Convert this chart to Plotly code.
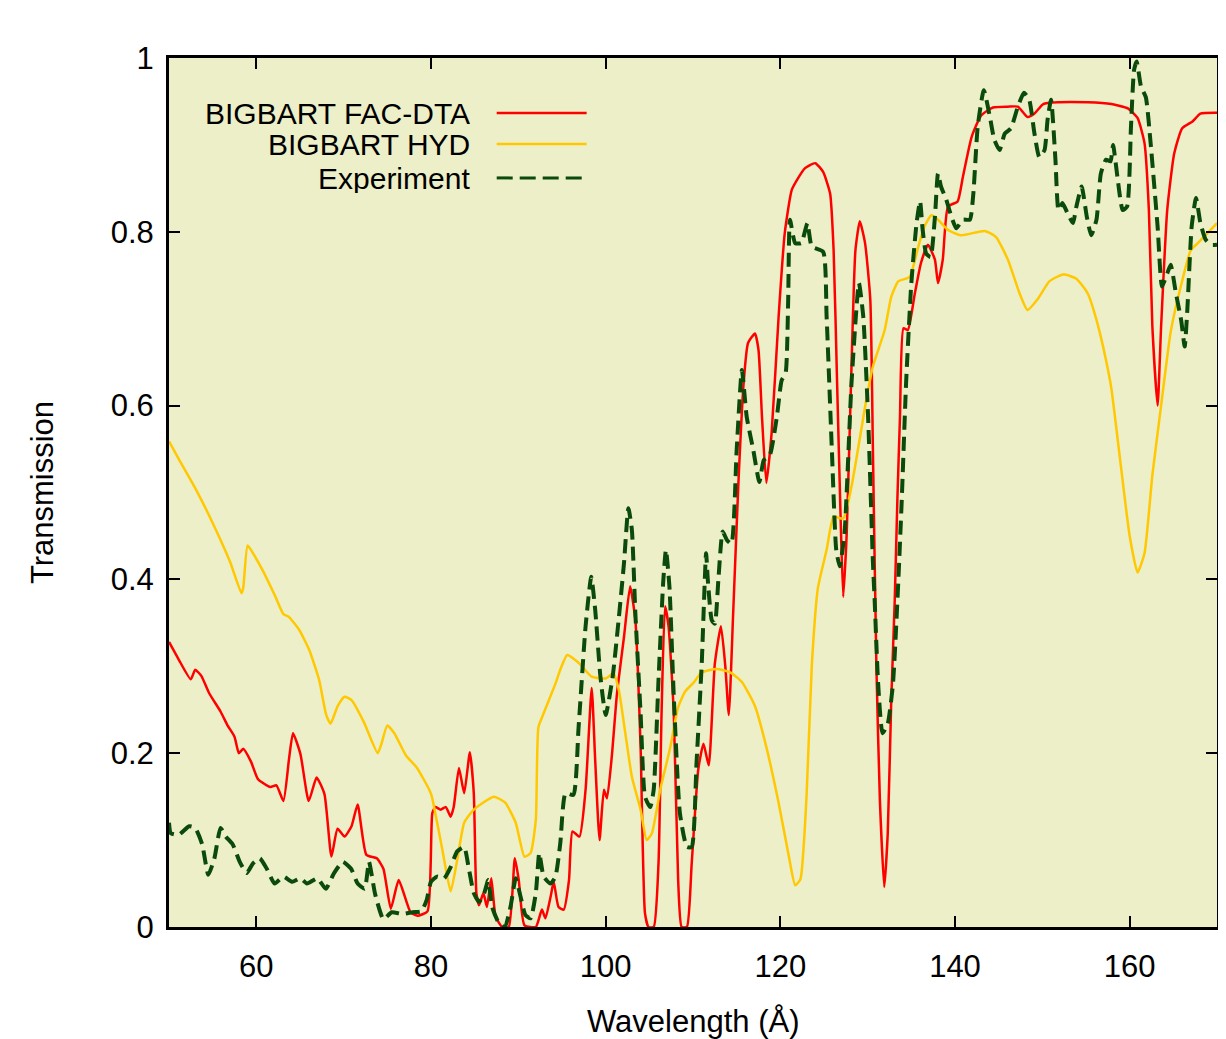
import plotly.graph_objects as go

# ---- Data (wavelength in Angstrom, transmission) ----
fac_dta = [
    (50, 0.328), (51.1, 0.308), (52.5, 0.285), (53.0, 0.296), (53.7, 0.289), (54.6, 0.269),
    (55.9, 0.248), (56.7, 0.232), (57.5, 0.219), (58.0, 0.2), (58.5, 0.205), (59.4, 0.19),
    (60.2, 0.17), (61.6, 0.161), (62.3, 0.163), (63.1, 0.145), (63.75, 0.194), (64.2, 0.223),
    (65.05, 0.199), (66.0, 0.145), (66.9, 0.172), (67.8, 0.153), (68.6, 0.081), (69.3, 0.113),
    (70.1, 0.104), (70.9, 0.116), (71.6, 0.141), (72.6, 0.083), (73.8, 0.079), (74.55, 0.067),
    (75.4, 0.021), (76.3, 0.054), (77.65, 0.017), (78.45, 0.013), (79.6, 0.018), (80.15, 0.131),
    (80.5, 0.138), (81.1, 0.135), (81.7, 0.138), (82.25, 0.127), (82.6, 0.138), (83.2, 0.183),
    (83.8, 0.154), (84.45, 0.201), (84.9, 0.154), (85.2, 0.039), (85.5, 0.025), (86.0, 0.039),
    (86.4, 0.023), (86.9, 0.056), (87.4, 0.012), (88.15, 0.0), (88.9, 0.0), (89.6, 0.079),
    (90.05, 0.054), (90.7, 0.002), (92.0, 0.0), (92.7, 0.02), (93.1, 0.01), (93.7, 0.035),
    (94.05, 0.052), (94.6, 0.023), (95.2, 0.02), (95.8, 0.054), (96.2, 0.11), (97.0, 0.104),
    (97.7, 0.158), (98.4, 0.275), (98.8, 0.192), (99.3, 0.1), (99.8, 0.158), (100.15, 0.148),
    (100.7, 0.196), (101.3, 0.269), (102.1, 0.334), (102.8, 0.392), (103.4, 0.353), (104.0, 0.207),
    (104.5, 0.016), (104.9, 0.0), (105.5, 0.0), (106.05, 0.073), (106.4, 0.246), (106.8, 0.369),
    (107.2, 0.346), (107.8, 0.246), (108.3, 0.054), (108.7, 0.0), (109.3, 0.0), (109.85, 0.073),
    (110.6, 0.181), (111.2, 0.211), (111.8, 0.186), (112.5, 0.303), (113.2, 0.346), (113.7, 0.3),
    (114.1, 0.244), (114.6, 0.361), (115.2, 0.511), (115.8, 0.626), (116.3, 0.672), (117.1, 0.683),
    (117.5, 0.664), (117.9, 0.587), (118.4, 0.511), (119.0, 0.568), (119.8, 0.702), (120.5, 0.798),
    (121.3, 0.848), (122.05, 0.862), (122.8, 0.873), (124.0, 0.879), (124.9, 0.869), (125.7, 0.844),
    (126.1, 0.779), (126.5, 0.626), (126.9, 0.472), (127.2, 0.38), (127.6, 0.453), (128.2, 0.664),
    (128.6, 0.779), (129.1, 0.812), (129.7, 0.787), (130.3, 0.722), (130.6, 0.549), (131.0, 0.3),
    (131.4, 0.146), (131.9, 0.046), (132.3, 0.108), (132.7, 0.261), (133.1, 0.376), (133.4, 0.491),
    (133.7, 0.587), (134.1, 0.689), (134.6, 0.687), (135.4, 0.729), (136.1, 0.764), (136.9, 0.785),
    (137.7, 0.768), (138.05, 0.741), (138.6, 0.768), (139.2, 0.829), (140.3, 0.835), (140.9, 0.863),
    (141.9, 0.909), (143.0, 0.934), (144.35, 0.943), (146.05, 0.944), (147.2, 0.944), (148.3, 0.932),
    (149.1, 0.936), (150.1, 0.947), (151.8, 0.949), (155.2, 0.949), (157.9, 0.947), (159.8, 0.942),
    (160.9, 0.931), (161.7, 0.902), (162.2, 0.825), (162.6, 0.691), (163.2, 0.60), (163.6, 0.691),
    (164.3, 0.825), (165.1, 0.89), (166.0, 0.919), (167.2, 0.927), (168.1, 0.936), (170, 0.937),
]

hyd = [
    (50, 0.559), (51.2, 0.537), (53.0, 0.505), (55.0, 0.465), (57.0, 0.42), (58.3, 0.384),
    (58.5, 0.39), (59.0, 0.439), (59.8, 0.427), (60.8, 0.409), (62.1, 0.382), (63.1, 0.36),
    (63.7, 0.357), (64.9, 0.342), (66.05, 0.319), (67.2, 0.284), (68.0, 0.244), (68.5, 0.234),
    (69.3, 0.254), (70.1, 0.265), (70.9, 0.261), (72.3, 0.236), (73.9, 0.2), (74.3, 0.21),
    (75.0, 0.232), (75.8, 0.223), (77.1, 0.198), (78.4, 0.183), (79.8, 0.158), (80.1, 0.15),
    (81.3, 0.089), (82.25, 0.041), (83.0, 0.077), (83.8, 0.12), (84.9, 0.135), (87.2, 0.15),
    (88.5, 0.143), (89.7, 0.12), (90.7, 0.081), (91.4, 0.085), (92.0, 0.123), (92.3, 0.23),
    (92.9, 0.246), (94.25, 0.28), (94.8, 0.296), (95.6, 0.313), (96.9, 0.304), (98.4, 0.288),
    (100.0, 0.286), (100.9, 0.292), (101.5, 0.273), (102.25, 0.223), (103.0, 0.173), (104.0, 0.135),
    (104.7, 0.10), (105.3, 0.108), (106.25, 0.158), (107.4, 0.207), (108.3, 0.253), (109.1, 0.271),
    (110.05, 0.281), (111.0, 0.293), (112.7, 0.297), (114.25, 0.293), (115.6, 0.282), (117.1, 0.254),
    (118.4, 0.207), (119.8, 0.143), (121.0, 0.08), (121.7, 0.048), (122.3, 0.055), (123.0, 0.15),
    (123.6, 0.3), (124.3, 0.39), (125.3, 0.434), (126.1, 0.472), (127.2, 0.47), (128.15, 0.507),
    (129.9, 0.61), (130.6, 0.645), (131.95, 0.687), (132.7, 0.725), (133.5, 0.743), (134.8, 0.748),
    (135.8, 0.783), (136.5, 0.806), (137.3, 0.819), (138.05, 0.814), (139.2, 0.802), (140.7, 0.796),
    (143.4, 0.801), (144.7, 0.794), (146.05, 0.768), (147.4, 0.729), (148.3, 0.71), (149.5, 0.723),
    (150.8, 0.743), (152.4, 0.751), (153.9, 0.746), (155.2, 0.729), (156.3, 0.695), (157.3, 0.652),
    (157.9, 0.62), (159.0, 0.53), (160.0, 0.45), (160.9, 0.408), (161.7, 0.43), (162.6, 0.52),
    (163.6, 0.60), (164.7, 0.685), (165.9, 0.739), (167.0, 0.779), (167.8, 0.787), (170, 0.81),
]

experiment = [
    (50, 0.12), (50.2, 0.108), (51.1, 0.106), (52.3, 0.116), (53.0, 0.114), (53.8, 0.095),
    (54.5, 0.06), (55.2, 0.079), (55.9, 0.114), (56.5, 0.104), (57.3, 0.095), (58.1, 0.075),
    (58.9, 0.062), (59.6, 0.073), (60.4, 0.079), (61.2, 0.067), (62.1, 0.05), (63.1, 0.058),
    (64.1, 0.052), (65.05, 0.056), (65.8, 0.05), (67.0, 0.056), (67.95, 0.044), (68.9, 0.062),
    (69.9, 0.075), (70.85, 0.067), (71.6, 0.05), (72.4, 0.044), (72.9, 0.075), (73.6, 0.038),
    (74.55, 0.009), (75.5, 0.017), (76.7, 0.015), (77.9, 0.017), (78.9, 0.018), (79.5, 0.031),
    (80.0, 0.052), (80.7, 0.058), (81.5, 0.056), (82.25, 0.069), (83.0, 0.087), (83.8, 0.092),
    (84.3, 0.069), (84.9, 0.039), (85.5, 0.029), (86.1, 0.039), (86.55, 0.054), (87.0, 0.023),
    (87.8, 0.004), (88.45, 0.0), (89.1, 0.023), (89.7, 0.056), (90.25, 0.035), (90.8, 0.014),
    (91.4, 0.01), (92.0, 0.039), (92.4, 0.085), (92.9, 0.058), (93.7, 0.05), (94.25, 0.058),
    (94.8, 0.096), (95.4, 0.154), (96.3, 0.152), (96.9, 0.23), (97.7, 0.346), (98.35, 0.403),
    (98.8, 0.365), (99.4, 0.288), (100.0, 0.244), (100.8, 0.288), (101.5, 0.355), (102.1, 0.419),
    (102.6, 0.482), (103.0, 0.457), (103.4, 0.361), (104.0, 0.246), (104.5, 0.15), (105.1, 0.138),
    (105.5, 0.158), (106.05, 0.284), (106.6, 0.399), (106.9, 0.434), (107.3, 0.392), (107.8, 0.265),
    (108.5, 0.131), (109.3, 0.092), (109.85, 0.092), (110.4, 0.188), (111.0, 0.303), (111.5, 0.43),
    (111.7, 0.399), (112.15, 0.353), (112.5, 0.349), (112.9, 0.399), (113.4, 0.455), (113.9, 0.445),
    (114.4, 0.441), (115.0, 0.549), (115.6, 0.641), (116.15, 0.587), (116.9, 0.549), (117.6, 0.512),
    (118.1, 0.537), (118.8, 0.543), (119.6, 0.587), (120.15, 0.629), (120.6, 0.637), (120.9, 0.722),
    (121.1, 0.814), (121.7, 0.787), (122.4, 0.787), (123.1, 0.81), (123.6, 0.783), (124.9, 0.777),
    (125.3, 0.702), (125.9, 0.549), (126.4, 0.434), (126.8, 0.415), (127.35, 0.453), (128.15, 0.626),
    (129.0, 0.741), (129.5, 0.702), (130.05, 0.587), (130.6, 0.42), (130.8, 0.376), (131.2, 0.28),
    (131.7, 0.223), (132.3, 0.234), (132.9, 0.28), (133.5, 0.396), (133.9, 0.491), (134.4, 0.626),
    (135.0, 0.741), (135.6, 0.81), (136.0, 0.835), (136.3, 0.802), (136.7, 0.775), (137.2, 0.771),
    (137.7, 0.817), (138.05, 0.867), (138.4, 0.852), (139.0, 0.837), (139.6, 0.817), (140.15, 0.804),
    (140.9, 0.814), (141.7, 0.814), (142.1, 0.844), (142.6, 0.921), (143.3, 0.963), (144.0, 0.932),
    (144.5, 0.906), (145.1, 0.894), (145.7, 0.913), (146.4, 0.919), (147.2, 0.944), (147.9, 0.96),
    (148.5, 0.952), (149.1, 0.913), (149.65, 0.886), (150.25, 0.894), (150.6, 0.929), (151.0, 0.952),
    (151.5, 0.883), (151.85, 0.825), (152.3, 0.833), (152.9, 0.821), (153.5, 0.81), (153.9, 0.829),
    (154.5, 0.852), (155.1, 0.817), (155.6, 0.796), (156.2, 0.814), (156.7, 0.867), (157.3, 0.883),
    (157.8, 0.881), (158.1, 0.90), (158.6, 0.863), (159.2, 0.825), (159.7, 0.829), (160.15, 0.921),
    (160.5, 0.986), (160.8, 0.996), (161.3, 0.967), (161.85, 0.955), (162.4, 0.902), (163.2, 0.806),
    (163.7, 0.737), (164.3, 0.752), (164.7, 0.762), (165.3, 0.729), (165.9, 0.698), (166.3, 0.668),
    (166.6, 0.71), (167.1, 0.806), (167.6, 0.839), (168.1, 0.81), (168.7, 0.791), (169.3, 0.785),
    (170, 0.785),
]

series_names = ["BIGBART FAC-DTA", "BIGBART HYD", "Experiment"]
x_ticks = [60, 80, 100, 120, 140, 160]
y_ticks = [0, 0.2, 0.4, 0.6, 0.8, 1]
y_tick_labels = ["0", "0.2", "0.4", "0.6", "0.8", "1"]
x_title = "Wavelength (Å)"
y_title = "Transmission"

# ---- Styles ----
FONT = "Liberation Sans, Arial, Helvetica, sans-serif"
FS = 31
LEG_FS = 30
RED = "#FF0000"
GOLD = "#FFC800"
GREEN = "#0A4A0A"
BG = "#EDEFC8"

styles = [
    dict(color=RED, width=2.5),
    dict(color=GOLD, width=2.5),
    dict(color=GREEN, width=4, dash="14px,7px"),
]

fig = go.Figure()
for name, data, st in zip(series_names, [fac_dta, hyd, experiment], styles):
    xs = [p[0] for p in data]
    ys = [p[1] for p in data]
    fig.add_trace(go.Scatter(x=xs, y=ys, mode="lines", name=name, line=st,
                             line_shape="spline", line_smoothing=0.5, showlegend=False))

# custom legend (text right-aligned, sample line to the right)
leg_rows = [0.9367, 0.901, 0.862]
for name, st, yy in zip(series_names, styles, leg_rows):
    fig.add_annotation(x=0.288, y=yy, xref="paper", yref="paper", text=name, showarrow=False,
                       xanchor="right", yanchor="middle", height=30, valign="middle", borderpad=0,
                       font=dict(family=FONT, size=LEG_FS, color="black"))
    fig.add_shape(type="line", xref="paper", yref="paper", x0=0.3127, x1=0.3985, y0=yy, y1=yy,
                  line=dict(color=st["color"], width=3 if "dash" in st else st["width"],
                            dash="16px,7px" if "dash" in st else "solid"))

# x-axis title placed as an annotation so it can sit low (partly cut at the bottom, as in the reference)
fig.add_annotation(x=0.5, y=-0.1093, xref="paper", yref="paper", text=x_title, showarrow=False,
                   xanchor="center", yanchor="middle", font=dict(family=FONT, size=FS, color="black"))

axis_common = dict(showline=True, linecolor="black", linewidth=3, mirror="allticks",
                   ticks="inside", ticklen=11, tickwidth=2, tickcolor="black",
                   showgrid=False, zeroline=False,
                   tickfont=dict(family=FONT, size=FS, color="black"))

fig.update_xaxes(range=[50, 170], tickvals=x_ticks, ticktext=[str(v) for v in x_ticks],
                 ticklabelstandoff=10, **axis_common)
fig.update_yaxes(range=[0, 1], tickvals=y_ticks, ticktext=y_tick_labels,
                 ticklabelstandoff=6,
                 title=dict(text=y_title, font=dict(family=FONT, size=FS, color="black"), standoff=48),
                 **axis_common)

# page body has an 8px margin; offset so the plot box lands at x 169-1217, y 58-927
fig.update_layout(
    width=1210, height=1035,
    margin=dict(l=161, r=1, t=50, b=116, autoexpand=False),
    paper_bgcolor="white", plot_bgcolor=BG,
    font=dict(family=FONT, size=FS, color="black"),
)

fig.write_html("out.html")
